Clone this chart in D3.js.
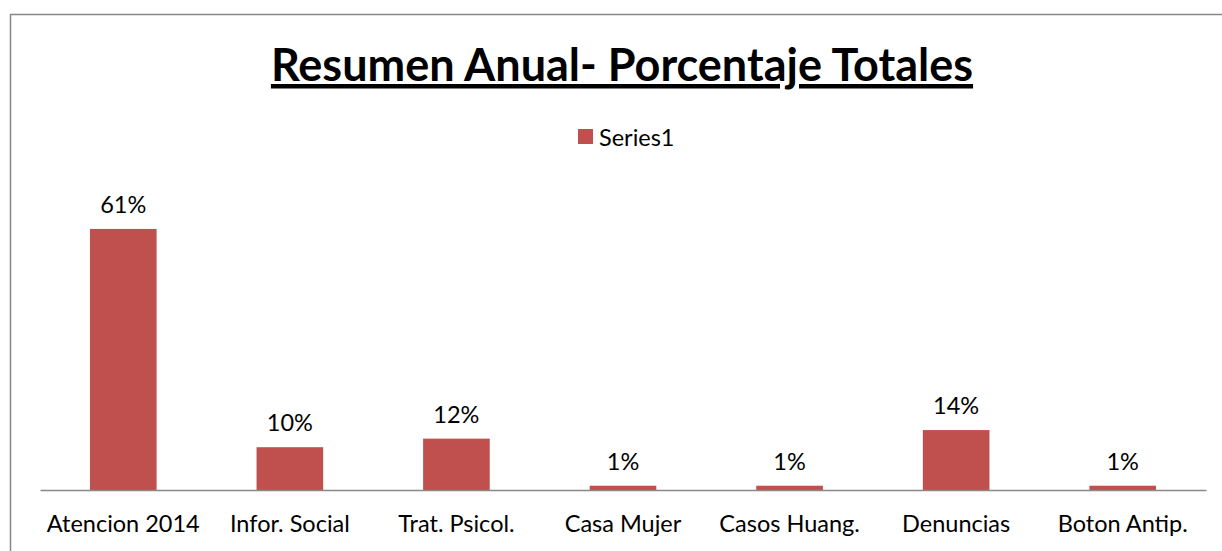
<!DOCTYPE html>
<html>
<head>
<meta charset="utf-8">
<script src="https://cdn.jsdelivr.net/npm/d3@7"></script>
<style>
  body { margin: 0; background: #fff; }
  svg { display: block; font-family: Lato, "Open Sans", sans-serif; }
</style>
</head>
<body>
<div id="vis"></div>
<script>
// data
const categories = ["Atencion 2014", "Infor. Social", "Trat. Psicol.", "Casa Mujer", "Casos Huang.", "Denuncias", "Boton Antip."];
const values = [0.61, 0.10, 0.12, 0.01, 0.01, 0.14, 0.01];
const seriesName = "Series1";
const title = "Resumen Anual- Porcentaje Totales";

const width = 1222;
const height = 551;
const barColor = "#c0504d";
const fontSize = 23.5;

const svg = d3.select('#vis')
    .append('svg')
    .attr('width', width)
    .attr('height', height);

// chart frame
svg.append("rect")
    .attr("x", 10.5).attr("y", 14.5)
    .attr("width", 1240).attr("height", 600)
    .attr("fill", "none")
    .attr("stroke", "#878787")
    .attr("stroke-width", 1.5);

const x = d3.scaleBand()
    .domain(categories)
    .range([40, 1206])
    .paddingInner(0.6)
    .paddingOuter(0.3);

const y = d3.scaleLinear()
    .domain([0, 0.7])
    .range([490, 490 - 0.7 * 428]);

// title
svg.append("text")
    .attr("x", 622).attr("y", 81)
    .attr("text-anchor", "middle")
    .attr("font-size", 45)
    .attr("font-weight", "bold")
    .attr("text-decoration", "underline")
    .attr("fill", "#000")
    .text(title);

// legend
const legend = svg.append("g");
legend.append("rect")
    .attr("x", 578).attr("y", 129)
    .attr("width", 15).attr("height", 15)
    .attr("fill", barColor);
legend.append("text")
    .attr("x", 599).attr("y", 146)
    .attr("font-size", fontSize)
    .attr("fill", "#000")
    .text(seriesName);

// bars
svg.selectAll("rect.bar")
    .data(values)
    .join("rect")
    .attr("class", "bar")
    .attr("x", (d, i) => x(categories[i]))
    .attr("y", d => y(d))
    .attr("width", x.bandwidth())
    .attr("height", d => y(0) - y(d))
    .attr("fill", barColor);

// value labels
svg.selectAll("text.val")
    .data(values)
    .join("text")
    .attr("class", "val")
    .attr("x", (d, i) => x(categories[i]) + x.bandwidth() / 2)
    .attr("y", d => y(d) - 16)
    .attr("text-anchor", "middle")
    .attr("font-size", fontSize)
    .attr("fill", "#000")
    .text(d => d3.format(".0%")(d));

// x axis
const xAxis = svg.append("g")
    .attr("transform", "translate(0,490)")
    .call(d3.axisBottom(x).tickSize(0).tickPadding(25));
xAxis.select(".domain").attr("stroke", "#898989").attr("stroke-width", 1.5);
xAxis.selectAll("text")
    .attr("font-family", "Lato, 'Open Sans', sans-serif")
    .attr("font-size", fontSize)
    .attr("fill", "#000");
</script>
</body>
</html>
